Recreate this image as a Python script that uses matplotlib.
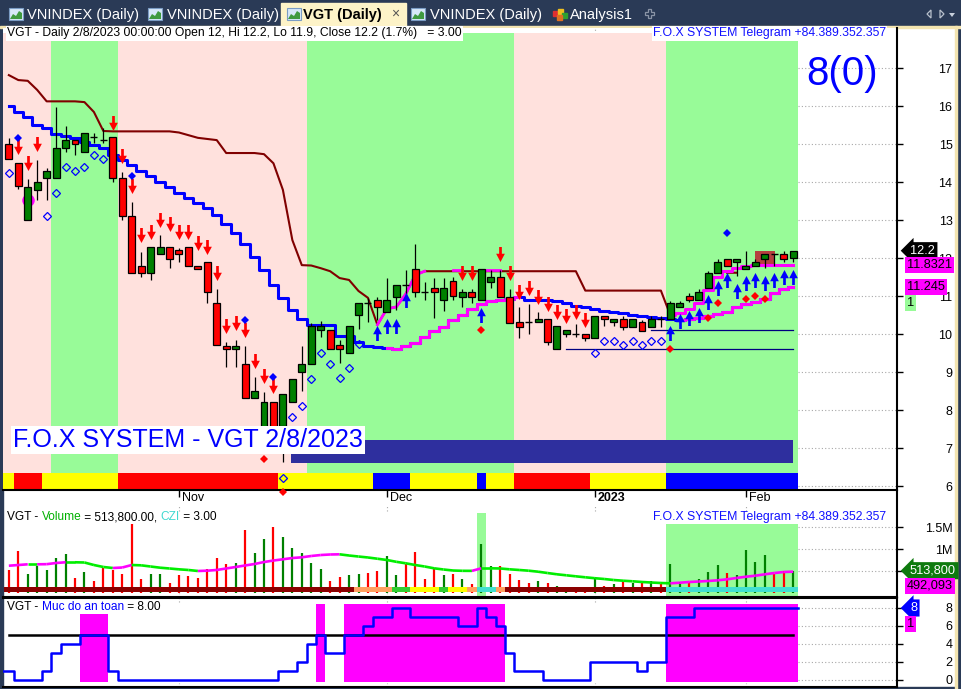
import numpy as np
import matplotlib
matplotlib.use("Agg")
import matplotlib.pyplot as plt
from matplotlib.path import Path
from matplotlib.patches import Rectangle, Polygon

plt.rcParams['font.family'] = ['Liberation Sans', 'DejaVu Sans']

# ---------------- data ----------------
month_ticks = [19, 41, 63, 79]
month_labels = ['Nov', 'Dec', '2023', 'Feb']

opens = [15.0, 14.5, 13.0, 13.8, 14.1, 14.1, 14.9, 15.1, 14.79, 15.2,
         15.11, 15.18, 14.1, 13.11, 11.8, 11.6, 12.1, 12.3, 12.21, 12.3,
         11.8, 11.9, 10.82, 9.70, 9.61, 9.22, 8.32, 7.5, 8.21, 7.6,
         8.21, 9.02, 9.22, 10.11, 10.11, 9.72, 9.5, 10.5, 10.82, 10.9,
         10.6, 10.99, 11.3, 11.71, 11.11, 11.21, 10.89, 11.40, 10.99, 11.11,
         10.9, 11.38, 11.5, 10.99, 10.32, 10.32, 10.32, 10.40, 9.61, 10.0,
         10.0, 10.0, 9.89, 10.49, 10.32, 10.40, 10.2, 10.32, 10.2, 10.4,
         10.39, 10.71, 11.0, 10.89, 11.21, 11.61, 11.99, 11.89, 11.71, 11.79,
         11.99, 12.11, 12.11, 12.0]
highs = [15.16, 14.5, 14.08, 14.59, 14.37, 15.99, 15.48, 15.1, 15.29, 15.29,
         15.42, 15.18, 14.28, 13.49, 12.17, 12.3, 12.6, 12.3, 12.26, 12.3,
         11.8, 11.9, 11.19, 9.81, 9.85, 9.69, 8.87, 8.49, 8.21, 8.42,
         8.82, 9.69, 10.29, 10.36, 10.11, 9.85, 10.22, 10.82, 10.95, 10.97,
         11.47, 11.29, 11.69, 12.38, 11.38, 11.47, 11.47, 11.52, 11.18, 11.18,
         11.71, 11.69, 11.69, 11.18, 10.71, 10.8, 10.6, 10.40, 10.22, 10.11,
         10.28, 10.0, 10.49, 10.49, 10.40, 10.48, 10.4, 10.38, 10.48, 10.48,
         10.88, 10.88, 11.08, 11.18, 11.67, 11.97, 11.99, 11.99, 12.19, 11.97,
         12.11, 12.11, 12.19, 12.2]
lows = [14.6, 13.82, 13.0, 13.53, 13.53, 14.1, 14.8, 14.72, 14.79, 15.03,
        15.03, 14.02, 13.0, 11.6, 11.52, 11.43, 12.1, 11.74, 11.91, 11.8,
        11.71, 10.83, 9.72, 9.13, 9.13, 8.32, 8.32, 7.4, 7.5, 6.63,
        8.21, 8.52, 9.22, 9.94, 9.61, 9.24, 9.5, 10.13, 10.33, 10.38,
        10.6, 10.64, 10.9, 10.99, 10.9, 10.42, 10.62, 10.9, 10.71, 10.83,
        10.9, 11.21, 10.99, 10.31, 9.91, 10.01, 10.32, 9.72, 9.61, 9.92,
        9.92, 9.82, 9.89, 10.22, 10.22, 10.11, 10.2, 10.09, 10.2, 10.2,
        10.39, 10.71, 10.84, 10.89, 11.21, 11.61, 11.79, 11.53, 11.71, 11.79,
        11.74, 11.80, 11.91, 11.9]
closes = [14.6, 13.9, 13.88, 14.0, 14.30, 14.89, 15.1, 15.0, 15.29, 15.2,
          15.11, 14.1, 13.1, 11.6, 11.6, 12.3, 12.3, 11.99, 12.1, 11.8,
          11.71, 11.11, 9.72, 9.61, 9.70, 8.32, 8.51, 8.21, 7.55, 8.42,
          8.82, 9.22, 10.22, 10.22, 9.61, 9.61, 10.22, 10.82, 10.82, 10.71,
          10.9, 11.29, 11.3, 11.11, 11.11, 11.11, 11.21, 11.0, 11.11, 10.99,
          11.71, 11.5, 10.99, 10.31, 10.2, 10.32, 10.4, 9.81, 10.22, 10.11,
          10.0, 9.89, 10.49, 10.4, 10.40, 10.2, 10.4, 10.09, 10.4, 10.4,
          10.82, 10.82, 10.89, 11.11, 11.61, 11.89, 11.79, 11.99, 11.79, 11.89,
          12.11, 12.11, 11.99, 12.2]

volume_m = [0.53, 0.96, 0.44, 0.62, 0.53, 0.80, 0.89, 0.34, 0.48, 0.28,
            0.57, 0.53, 0.45, 1.575, 0.32, 0.44, 0.44, 0.23, 0.41, 0.39,
            0.34, 0.55, 0.80, 0.67, 0.69, 1.45, 0.91, 1.23, 1.50, 1.27,
            1.02, 0.92, 0.70, 0.55, 0.28, 0.37, 0.42, 0.44, 0.46, 0.51,
            0.85, 0.42, 0.67, 0.93, 0.33, 0.58, 0.42, 0.44, 0.33, 0.21,
            1.12, 0.62, 0.62, 0.44, 0.30, 0.23, 0.28, 0.24, 0.17, 0.14,
            0.11, 0.11, 0.35, 0.17, 0.21, 0.26, 0.24, 0.23, 0.28, 0.21,
            0.67, 0.26, 0.26, 0.32, 0.49, 0.64, 0.47, 0.42, 0.98, 0.71,
            0.87, 0.44, 0.51, 0.5138]
volume_ma_m = [0.627, 0.643, 0.659, 0.659, 0.662, 0.689, 0.705, 0.705, 0.700, 0.643,
               0.598, 0.575, 0.586, 0.643, 0.636, 0.609, 0.582, 0.564, 0.545, 0.530,
               0.507, 0.514, 0.530, 0.564, 0.598, 0.632, 0.666, 0.711, 0.745, 0.773,
               0.802, 0.818, 0.848, 0.870, 0.882, 0.886, 0.859, 0.836, 0.814, 0.786,
               0.757, 0.716, 0.682, 0.643, 0.609, 0.568, 0.541, 0.518, 0.511, 0.510,
               0.568, 0.568, 0.564, 0.545, 0.530, 0.514, 0.491, 0.461, 0.432, 0.409,
               0.386, 0.364, 0.343, 0.325, 0.302, 0.286, 0.273, 0.257, 0.245, 0.234,
               0.227, 0.241, 0.257, 0.268, 0.280, 0.295, 0.318, 0.348, 0.377, 0.400,
               0.432, 0.461, 0.484, 0.492]

nan = np.nan
trail_high = [16.82, 16.69, 16.67, 16.43, 16.13, 16.13, 16.13, 16.13, 16.11, 15.85,
              15.35, 15.34, 15.34, 15.34, 15.34, 15.34, 15.34, 15.34, 15.31, 15.24,
              15.17, 15.14, 15.11, 14.77, 14.77, 14.77, 14.77, 14.74, 14.50, 13.80,
              12.48, 11.82, 11.81, 11.74, 11.66, 11.48, 11.43, 11.14, 10.96, 10.25,
              10.67, 10.72, 11.06, 11.56, 11.66, 11.66, 11.66, 11.66, 11.66, 11.66,
              11.66, 11.66, 11.66, 11.66, 11.66, 11.66, 11.66, 11.66, 11.66, 11.66,
              11.66, 11.15, 11.15, 11.15, 11.15, 11.15, 11.15, 11.15, 11.15, 11.15,
              10.50, nan, nan, nan, nan, nan, 11.62, 11.62, nan, nan,
              nan, nan, nan, nan]
trail_high_up_bars = [40, 41, 42, 43, 44, 45]
trail_high_patch_bars = [[48, 49], [51, 52, 53]]
trail_high_patch_value = 11.70
stop_up_bars = [71, 72, 73, 74, 75, 76, 77, 78, 79, 80, 81, 82, 83, 84]
stop_up = [10.50, 10.56, 10.66, 10.82, 11.17, 11.51, 11.66, 11.74, 11.80, 11.83,
           11.8321, 11.8321, 11.8321, 11.8321]

trail_low = [16.01, 15.86, 15.71, 15.51, 15.42, 15.27, 15.22, 15.17, 15.07, 14.98,
             14.89, 14.72, 14.59, 14.46, 14.31, 14.17, 14.02, 13.87, 13.73, 13.58,
             13.46, 13.32, 13.14, 12.90, 12.67, 12.38, 12.03, 11.69, 11.30, 10.95,
             10.64, 10.39, 10.24, 10.24, 10.24, 9.96, 9.96, 9.81, 9.70, 9.66,
             9.63, 9.61, 9.69, 9.77, 9.93, 10.09, 10.20, 10.38, 10.51, 10.67,
             10.80, 10.88, 10.90, 10.92, 10.98, 10.90, 10.90, 10.90, 10.87, 10.82,
             10.74, 10.71, 10.67, 10.61, 10.59, 10.56, 10.51, 10.48, 10.45, 10.42,
             10.39, 10.38, 10.40, 10.43, 10.47, 10.53, 10.59, 10.72, 10.79, 10.86,
             10.92, 11.08, 11.18, 11.245]
trail_low_up_ranges = [(41, 55), (72, 84)]

sell_bars = [2, 3, 4, 12, 13, 14, 15, 16, 17, 18, 19, 20, 21, 22, 23, 24, 25, 26, 27, 28, 29,
             49, 50, 53, 54, 55, 56, 57, 58, 59, 60, 61, 62]
sell_y = [14.92, 14.50, 15.0, 15.57, 14.68, 13.90, 12.60, 12.69, 13.0, 12.89, 12.69, 12.69,
          12.40, 12.29, 11.61, 10.21, 10.30, 10.11, 9.29, 8.89, 8.64,
          11.62, 11.62, 12.11, 11.62, 11.10, 11.21, 10.99, 10.79, 10.60, 10.49, 10.60, 10.38]
buy_bars = [40, 41, 42, 43, 51, 71, 72, 73, 74, 75, 76, 77, 78, 79, 80, 81, 82, 83, 84]
buy_y = [10.03, 10.23, 10.23, 10.91, 10.52, 10.03, 10.36, 10.44, 10.52, 10.84, 11.23, 11.42,
         11.13, 11.34, 11.42, 11.34, 11.42, 11.52, 11.52]
bluedot_bars = [2, 14, 26, 29, 77]
bluedot_y = [15.17, 14.17, 10.38, 8.88, 12.67]
ring_bars = [1, 5, 6, 7, 8, 9, 10, 11, 30, 31, 32, 33, 34, 35, 36, 37, 38,
             63, 64, 65, 66, 67, 68, 69, 70]
ring_y = [14.24, 13.12, 13.73, 14.41, 14.31, 14.41, 14.72, 14.61, 6.23, 7.83, 8.12, 8.82, 9.52,
          9.22, 8.84, 9.12, 9.74, 9.52, 9.83, 9.83, 9.73, 9.83, 9.73, 9.83, 9.83]
reddot_bars = [28, 30, 51, 71, 75, 76, 79, 80, 81]
reddot_y = [6.72, 5.85, 10.11, 9.61, 10.44, 10.83, 10.94, 11.01, 10.94]

support_lines = [(69, 84, 10.11), (60, 84, 9.61)]

regime_bounds = [0, 6, 13, 33, 55, 71, 85]
regime_up = [False, True, False, True, False, True]

strip_bounds = [0, 2, 5, 13, 30, 40, 44, 51, 52, 55, 63, 71, 85]
strip_colors = ['#ffff00', '#ff0000', '#ffff00', '#ff0000', '#ffff00', '#0000ff', '#ffff00',
                '#0000ff', '#ffff00', '#ff0000', '#ffff00', '#0000ff']

vstrip_bounds = [1, 38, 42, 44, 47, 48, 50, 51, 53, 54, 71, 85]
vstrip_colors = ['#8b0000', '#ffa060', '#32cd32', '#ffff00', '#32cd32', '#ffff00', '#ffa060',
                 '#40e0d0', '#ffa060', '#8b0000', '#40e0d0']
vol_zone = [(51, 51, 1.82), (71, 84, 1.575)]

safety = [1, 0, 0, 0, 1, 3, 4, 4, 5, 5, 5, 1, 0, 0, 0, 0, 0, 0, 0, 0,
          0, 0, 0, 0, 0, 0, 0, 0, 0, 1, 1, 2, 4, 5, 3, 3, 5, 5, 6, 7,
          7, 8, 8, 7, 7, 7, 7, 7, 6, 6, 8, 7, 6, 3, 1, 1, 1, 0, 0, 0,
          0, 0, 2, 2, 2, 2, 2, 1, 2, 2, 7, 7, 7, 8, 8, 8, 8, 8, 8, 8,
          8, 8, 8, 8]
safety_zones = [(9, 11, 7.33), (34, 34, 8.45), (37, 53, 8.45), (71, 84, 8.45)]
safety_level = 5

# ---------------- layout helpers ----------------
W, H = 961, 689
fig = plt.figure(figsize=(W / 100, H / 100), dpi=100)
fig.patch.set_facecolor('white')


def frac(l, t, r, b):
    return [l / W, 1 - b / H, (r - l) / W, (b - t) / H]


X0, XS = -0.6, 9.45  # pixel position of bar 0 and bar spacing


def px2bar(x):
    return (x - X0) / XS


XL, XR = px2bar(3), px2bar(897)
GRID_FROM = (798 - 3) / (897 - 3)  # grid only visible right of the last bar
bars = np.arange(1, 85)
o = np.array(opens); h = np.array(highs); l = np.array(lows); c = np.array(closes)

NAVY = '#2a3a56'
PINK = '#ffe1dd'
GREEN_BG = '#98fb98'
GRID_KW = dict(color='#a8a8a8', linestyle=(0, (1, 2)), linewidth=0.8, zorder=0.5)

# ---------------- background / tabs ----------------
bg = fig.add_axes([0, 0, 1, 1])
bg.set_xlim(0, W); bg.set_ylim(H, 0); bg.axis('off')
bg.add_patch(Rectangle((0, 0), W, 27, color=NAVY, zorder=0))
bg.add_patch(Rectangle((0, 25.5), W, 2.5, color='#f3e4b0', zorder=1))
bg.add_patch(Rectangle((0, 0), 3, H, color=NAVY, zorder=0))
bg.add_patch(Rectangle((957, 0), 4, H, color=NAVY, zorder=0))
bg.add_patch(Rectangle((954.5, 25.5), 2.5, H, color='#f3e4b0', zorder=1))
bg.add_patch(Rectangle((0, 687), W, 2, color=NAVY, zorder=0))
bg.add_patch(Rectangle((281, 3), 125, 25, color='#fdf3c8', zorder=1))


def chart_icon(x):
    bg.add_patch(Rectangle((x, 8), 14, 12, fc='#d7e8f8', ec='#7b9cc4', lw=0.8, zorder=2))
    bg.add_patch(Polygon([(x + 1, 19), (x + 4, 14), (x + 7, 16), (x + 10, 11), (x + 13, 13), (x + 13, 19)],
                         closed=True, fc='#3f9a3f', ec='none', zorder=3))


for ix, tx, label in [(9, 27, 'VNINDEX (Daily)'), (148, 167, 'VNINDEX (Daily)'),
                      (411, 430, 'VNINDEX (Daily)')]:
    chart_icon(ix)
    bg.text(tx, 14.5, label, color='white', fontsize=10.5, va='center', ha='left', zorder=3)
chart_icon(287)
bg.text(303, 14.5, 'VGT (Daily)', color='black', fontsize=10.5, fontweight='bold',
        va='center', ha='left', zorder=3)
bg.text(395, 14, '×', color='#555555', fontsize=10, va='center', ha='center', zorder=3)
for dx, dy, col in [(0, 4, '#e03030'), (5, 2, '#f0c020'), (9, 6, '#30a030'), (4, 8, '#e07020')]:
    bg.add_patch(Rectangle((553 + dx, 7 + dy), 5, 5, color=col, zorder=3))
bg.text(570, 14.5, 'Analysis1', color='white', fontsize=10.5, va='center', ha='left', zorder=3)
bg.add_patch(Polygon([(645, 12), (648, 12), (648, 9), (651, 9), (651, 12), (654, 12), (654, 15),
                      (651, 15), (651, 18), (648, 18), (648, 15), (645, 15)],
                     closed=True, fc='none', ec='#8a94a6', lw=0.9, zorder=3))
bg.add_patch(Polygon([(927, 14), (931, 10), (931, 18)], closed=True, fc='none', ec='#b8c0cc', lw=0.9, zorder=3))
bg.add_patch(Polygon([(940, 10), (944, 14), (940, 18)], closed=True, fc='none', ec='#b8c0cc', lw=0.9, zorder=3))
bg.add_patch(Polygon([(949, 13), (955, 13), (952, 17)], closed=True, fc='#c8d0dc', ec='none', zorder=3))

# ---------------- price pane ----------------
axp = fig.add_axes(frac(3, 28, 897, 490))
axp.set_xlim(XL, XR)
axp.set_ylim(5.903, 18.06)
axp.set_facecolor('white')
for s in ['top', 'left']:
    axp.spines[s].set_visible(False)
axp.spines['right'].set_linewidth(1.5)
axp.spines['bottom'].set_linewidth(1.5)

BAND_TOP, BAND_BOT = 17.94, 5.90
for i in range(len(regime_up)):
    a, b = regime_bounds[i], regime_bounds[i + 1]
    axp.add_patch(Rectangle((a - 0.5, BAND_BOT), b - a, BAND_TOP - BAND_BOT,
                            color=GREEN_BG if regime_up[i] else PINK, lw=0, zorder=1))
for i in range(len(strip_colors)):
    a, b = strip_bounds[i], strip_bounds[i + 1]
    axp.add_patch(Rectangle((a - 0.5, 5.925), b - a, 0.415, color=strip_colors[i], lw=0, zorder=1.2))

axp.add_patch(Rectangle((30.85, 6.62), 84.0 - 30.85, 0.60, color='#2e2f9e', lw=0, zorder=1.5))
axp.add_patch(Rectangle((79.96, 11.78), 2.14, 0.42, color='#b5403f', lw=0, zorder=1.6))

axp.set_yticks(range(6, 18))
axp.set_yticklabels([str(v) for v in range(6, 18)])
for v in range(6, 18):
    axp.axhline(v, xmin=GRID_FROM, xmax=1, **GRID_KW)
axp.axvline(63, ymin=0.98, ymax=1, **GRID_KW)
axp.yaxis.tick_right()
axp.tick_params(axis='y', direction='out', length=4, width=1, pad=36, labelsize=9)
for t in axp.get_yticklabels():
    t.set_horizontalalignment('right')
axp.set_xticks(month_ticks)
axp.set_xticklabels([])
axp.tick_params(axis='x', direction='out', length=5, width=1)
for b, lab in zip(month_ticks, month_labels):
    axp.annotate(lab, xy=(b, 0), xycoords=('data', 'axes fraction'), xytext=(3, -2),
                 textcoords='offset pixels', ha='left', va='top', fontsize=9,
                 fontweight='bold' if lab == '2023' else 'normal', annotation_clip=False)

# lines
th = np.array(trail_high, dtype=float)
axp.plot(bars, th, color='#800000', lw=1.5, zorder=3)
up_idx = np.array(trail_high_up_bars)
axp.plot(up_idx, th[up_idx - 1], color='#ff00ff', lw=2.0, zorder=3.1)
for grp in trail_high_patch_bars:
    axp.plot(grp, [trail_high_patch_value] * len(grp), color='#ff00ff', lw=2.0, zorder=3.1)
axp.plot(stop_up_bars, stop_up, color='#ff00ff', lw=2.2, zorder=3.1, drawstyle='steps-mid')

tl = np.array(trail_low, dtype=float)
axp.plot(bars, tl, color='#0000ff', lw=2.2, zorder=3, drawstyle='steps-mid')
for a, b in trail_low_up_ranges:
    idx = np.arange(a, b + 1)
    axp.plot(idx, tl[idx - 1], color='#ff00ff', lw=2.2, zorder=3.1, drawstyle='steps-mid')
for a, b, v in support_lines:
    axp.plot([a, b], [v, v], color='#000080', lw=0.9, zorder=3)

# magenta blob
axp.plot([3], [13.53], 'o', color='#ff00ff', ms=9, mew=0, zorder=3.5)

# candles
BW = 0.74
up = c > o
dn = c < o
dj = c == o
axp.vlines(bars, l, h, color='black', lw=0.9, zorder=4)
axp.bar(bars[up], (c - o)[up], bottom=o[up], width=BW, color='#008000', edgecolor='black', lw=0.9, zorder=4.2)
axp.bar(bars[dn], (o - c)[dn], bottom=c[dn], width=BW, color='#ff0000', edgecolor='black', lw=0.9, zorder=4.2)
axp.hlines(c[dj], bars[dj] - BW / 2, bars[dj] + BW / 2, color='black', lw=1.0, zorder=4.2)

# markers
down_arrow = Path([(-0.09, 0.5), (0.09, 0.5), (0.09, 0.05), (0.29, 0.05), (0.0, -0.5),
                   (-0.29, 0.05), (-0.09, 0.05), (-0.09, 0.5)], closed=True)
up_arrow = Path([(-0.09, -0.5), (0.09, -0.5), (0.09, -0.05), (0.29, -0.05), (0.0, 0.5),
                 (-0.29, -0.05), (-0.09, -0.05), (-0.09, -0.5)], closed=True)
axp.plot(sell_bars, sell_y, linestyle='none', marker=down_arrow, ms=10.8, color='#ff0000', mew=0, zorder=5)
axp.plot(buy_bars, buy_y, linestyle='none', marker=up_arrow, ms=10.8, color='#0000ff', mew=0, zorder=5)
axp.plot(bluedot_bars, bluedot_y, linestyle='none', marker='D', ms=4.2, color='#0000ff', mew=0, zorder=5)
axp.plot(ring_bars, ring_y, linestyle='none', marker='D', ms=4.0, mfc='none', mec='#0000ff', mew=0.9, zorder=5)
axp.plot(reddot_bars, reddot_y, linestyle='none', marker='D', ms=4.2, color='#ff0000', mew=0, zorder=5,
         clip_on=False)

# texts
axp.text(px2bar(7), 17.92, 'VGT - Daily 2/8/2023 00:00:00 Open 12, Hi 12.2, Lo 11.9, Close 12.2 (1.7%)   = 3.00',
         fontsize=8.7, ha='left', va='center', zorder=7,
         bbox=dict(fc='white', ec='none', pad=1.0))
axp.text(px2bar(653), 17.92, 'F.O.X SYSTEM Telegram +84.389.352.357', fontsize=8.8, color='#1010ff',
         ha='left', va='center', zorder=7, bbox=dict(fc='white', ec='none', pad=1.0))
axp.text(px2bar(806), 16.86, '8(0)', fontsize=29, color='#0000ff', ha='left', va='center', zorder=7)
axp.text(px2bar(13), 7.22, 'F.O.X SYSTEM - VGT 2/8/2023', fontsize=18, color='#0000ff',
         ha='left', va='center', zorder=7, bbox=dict(fc='white', ec='none', pad=1.5))

# value labels at right
def vlabel(ax, y, txt, fc, tc, dx, arrow=False, fs=9.2):
    style = 'larrow,pad=0.2' if arrow else 'square,pad=0.16'
    ax.annotate(txt, xy=(1, y), xycoords=('axes fraction', 'data'), xytext=(dx, 0),
                textcoords='offset pixels', ha='left', va='center', fontsize=fs, color=tc,
                annotation_clip=False, zorder=8, bbox=dict(boxstyle=style, fc=fc, ec='none'))


vlabel(axp, closes[-1], '12.2', 'black', 'white', 13, arrow=True)
vlabel(axp, stop_up[-1], '11.8321', '#ff00ff', 'black', 10)
vlabel(axp, trail_low[-1], '11.245', '#ff00ff', 'black', 10)
vlabel(axp, 10.82, '1', GREEN_BG, 'black', 10)

# ---------------- volume pane ----------------
axv = fig.add_axes(frac(3, 491, 897, 597))
axv.set_xlim(XL, XR)
axv.set_ylim(-0.084, 2.325)
axv.set_facecolor('none')
for s in ['top', 'left']:
    axv.spines[s].set_visible(False)
for s in ['bottom', 'right']:
    axv.spines[s].set_linewidth(1.5)
for a, b, top in vol_zone:
    axv.add_patch(Rectangle((a - 0.5, -0.1), b - a + 1, top + 0.1, color=GREEN_BG, lw=0, zorder=1))
vol = np.array(volume_m)
vcol = np.where(c > o, '#008000', '#ff0000')
axv.vlines(bars, 0, vol, colors=vcol, lw=1.6, zorder=3)
ma = np.array(volume_ma_m)
for i in range(len(ma) - 1):
    col = '#ff00ff' if ma[i + 1] > ma[i] else '#00ee00'
    axv.plot([bars[i], bars[i + 1]], [ma[i], ma[i + 1]], color=col, lw=1.9, zorder=3.5,
             solid_capstyle='butt')
for i in range(len(vstrip_colors)):
    a, b = vstrip_bounds[i], vstrip_bounds[i + 1]
    axv.add_patch(Rectangle((a - 0.5, 0.03), b - a, 0.107, color=vstrip_colors[i], lw=0, zorder=4))
axv.set_yticks([0.5, 1.0, 1.5])
axv.set_yticklabels(['', '1M', '1.5M'])
for v in [0.5, 1.0, 1.5]:
    axv.axhline(v, xmin=GRID_FROM, xmax=1, **GRID_KW)
for b in month_ticks:
    axv.axvline(b, ymin=0.0, ymax=0.04, **GRID_KW)
    axv.axvline(b, ymin=0.81, ymax=0.86, **GRID_KW)
axv.set_xticks([])
axv.yaxis.tick_right()
axv.tick_params(axis='y', direction='out', length=4, width=1, pad=36, labelsize=9)
for t in axv.get_yticklabels():
    t.set_horizontalalignment('right')

VT = 1.73
t1 = axv.text(px2bar(7), VT, 'VGT - ', fontsize=8.6, ha='left', va='center', zorder=7)
t2 = axv.annotate('Volume', xy=(1, 0), xycoords=t1, va='bottom', ha='left', fontsize=8.6, color='#00b000', zorder=7)
t3 = axv.annotate(' = 513,800.00, ', xy=(1, 0), xycoords=t2, va='bottom', ha='left', fontsize=8.6, zorder=7)
t4 = axv.annotate('CZI', xy=(1, 0), xycoords=t3, va='bottom', ha='left', fontsize=8.6, color='#40d8d0', zorder=7)
axv.annotate(' = 3.00', xy=(1, 0), xycoords=t4, va='bottom', ha='left', fontsize=8.6, zorder=7)
axv.text(px2bar(653), VT, 'F.O.X SYSTEM Telegram +84.389.352.357', fontsize=8.8, color='#1010ff',
         ha='left', va='center', zorder=7)
vlabel(axv, volume_m[-1], '513,800', '#0e7a0e', 'white', 13, arrow=True)
vlabel(axv, 0.175, '492,093', '#ff00ff', 'black', 10)

# ---------------- safety pane ----------------
axs = fig.add_axes(frac(3, 598, 897, 687))
axs.set_xlim(XL, XR)
axs.set_ylim(-0.78, 9.11)
axs.set_facecolor('none')
axs.spines['left'].set_visible(False)
for s in ['top', 'bottom', 'right']:
    axs.spines[s].set_linewidth(1.5)
for a, b, top in safety_zones:
    axs.add_patch(Rectangle((a - 0.5, -0.22), b - a + 1, top + 0.22, color='#ff00ff', lw=0, zorder=1))
axs.plot([1, 84], [safety_level, safety_level], color='black', lw=1.8, zorder=3)
axs.plot(np.concatenate([[XL], bars, [84.5]]), [safety[0]] + safety + [safety[-1]],
         color='#0000ff', lw=1.8, drawstyle='steps-mid', zorder=3.5)
for v in [0, 2, 4, 6, 8]:
    axs.axhline(v, xmin=GRID_FROM, xmax=1, **GRID_KW)
for b in month_ticks:
    axs.axvline(b, ymin=0.0, ymax=0.05, **GRID_KW)
    axs.axvline(b, ymin=0.95, ymax=1.0, **GRID_KW)
axs.set_xticks([])
axs.set_yticks([0, 2, 4, 6, 8])
axs.set_yticklabels(['0', '2', '4', '6', '8'])
axs.yaxis.tick_right()
axs.tick_params(axis='y', direction='out', length=4, width=1, pad=36, labelsize=9)
for t in axs.get_yticklabels():
    t.set_horizontalalignment('right')
s1 = axs.text(px2bar(7), 8.1, 'VGT - ', fontsize=8.6, ha='left', va='center', zorder=7)
s2 = axs.annotate('Muc do an toan', xy=(1, 0), xycoords=s1, va='bottom', ha='left', fontsize=8.6,
                  color='#0000ff', zorder=7)
axs.annotate(' = 8.00', xy=(1, 0), xycoords=s2, va='bottom', ha='left', fontsize=8.6, zorder=7)
vlabel(axs, safety[-1], '8', '#0000ff', 'white', 13, arrow=True)
vlabel(axs, 6.2, '1', '#ff00ff', 'black', 10)

fig.savefig('out.png', dpi=100)
